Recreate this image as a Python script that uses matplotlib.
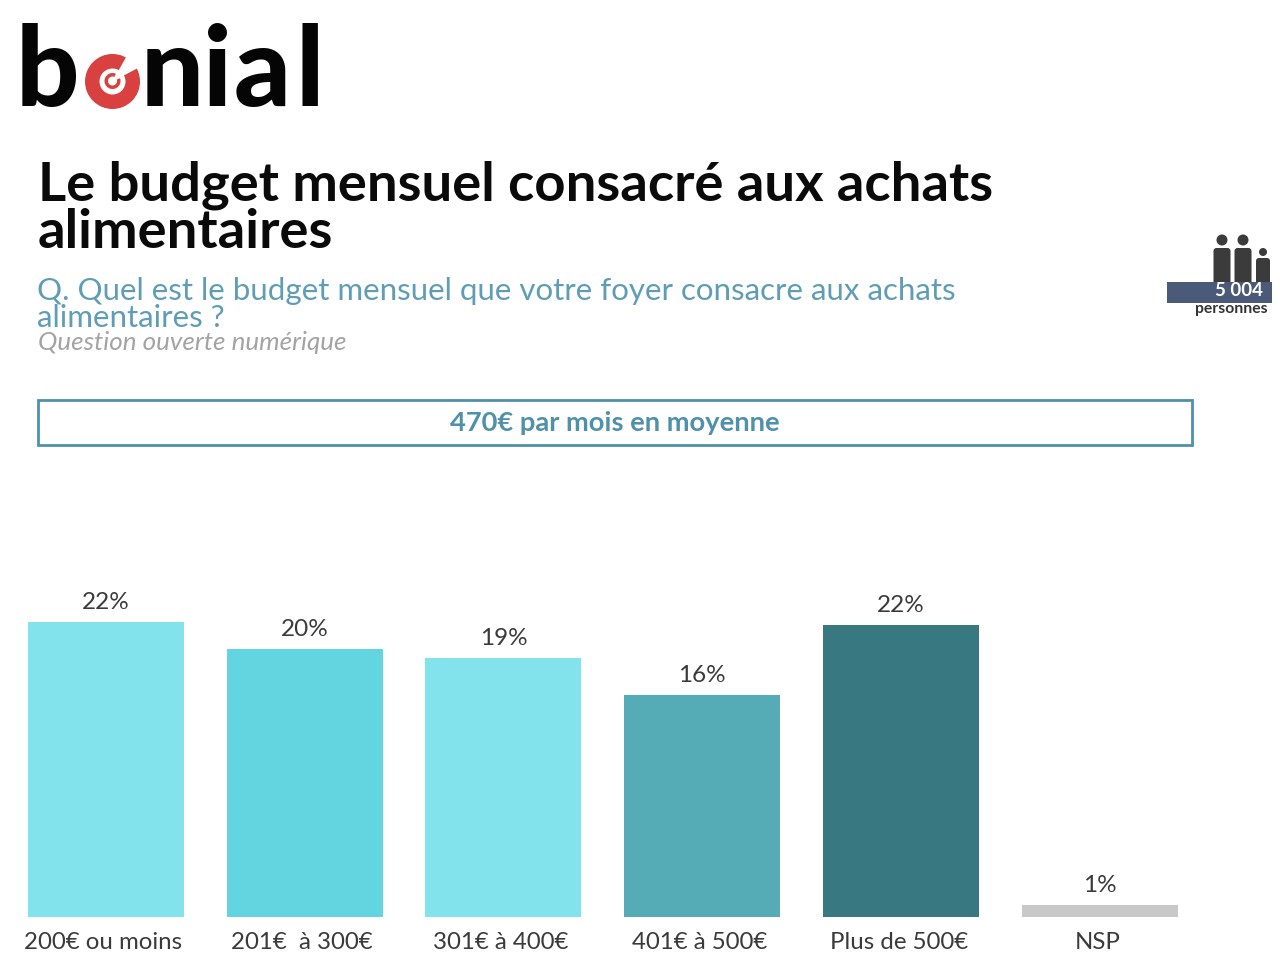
import matplotlib
matplotlib.use("Agg")
import matplotlib.pyplot as plt
from matplotlib.patches import Rectangle, Circle, Wedge, FancyBboxPatch
from matplotlib.transforms import ScaledTranslation

plt.rcParams['font.family'] = ['Lato', 'DejaVu Sans']

categories = ["200€ ou moins", "201€  à 300€", "301€ à 400€", "401€ à 500€", "Plus de 500€", "NSP"]
values = [22.0, 20.0, 19.3, 16.6, 21.8, 0.86]
labels = ["22%", "20%", "19%", "16%", "22%", "1%"]
colors = ["#82E3EC", "#62D5E0", "#82E3EC", "#55ABB6", "#387881", "#C8C8C8"]

title_lines = ["Le budget mensuel consacré aux achats", "alimentaires"]
question = ["Q. Quel est le budget mensuel que votre foyer consacre aux achats", "alimentaires ?"]
note = "Question ouverte numérique"
mean_text = "470€ par mois en moyenne"

W, H = 1280, 960
fig = plt.figure(figsize=(W / 100, H / 100), dpi=100, facecolor="white")

# pixel overlay for page furniture
ov = fig.add_axes([0, 0, 1, 1])
ov.set_xlim(0, W)
ov.set_ylim(H, 0)
ov.axis("off")

# logo: letters placed one by one around the red target
logo = dict(fontsize=80, fontweight="black", color="#050505", va="baseline", ha="left")
for lx, letter in [(16, "b"), (141, "n"), (203, "i"), (234, "a"), (296, "l")]:
    ov.text(lx, 106, letter, **logo)
ov.add_patch(Wedge((112.5, 81.5), 27.5, 0, 360, width=14.5, facecolor="#D8413F", edgecolor="none"))
ov.add_patch(Wedge((112.5, 81.5), 33, -61, -28, facecolor="white", edgecolor="none"))
ov.add_patch(Wedge((112.5, 81), 8, -20, 295, width=3.5, facecolor="#D8413F", edgecolor="none"))

# titles
ov.text(38, 200, title_lines[0], fontsize=39.2, fontweight="bold", color="#0A0A0A", va="baseline")
ov.text(38, 248, title_lines[1], fontsize=39.2, fontweight="bold", color="#0A0A0A", va="baseline")
ov.text(37, 300, question[0], fontsize=22.5, color="#5E9DB5", va="baseline")
ov.text(37, 327, question[1], fontsize=22.5, color="#5E9DB5", va="baseline")
ov.text(38, 350, note, fontsize=18.7, style="italic", color="#A3A3A3", va="baseline")

# mean box
ov.add_patch(Rectangle((38, 400), 1154, 45, fill=False, edgecolor="#4F90AB", linewidth=2))
ov.text(615, 423, mean_text, fontsize=19.7, fontweight="bold", color="#4F90AB", ha="center", va="center")

# people icon
dark = "#3B3B3B"
for cx, top, bw, r, cy in [(1222, 248, 17, 5.5, 240), (1243, 248, 17, 5.5, 240), (1263, 258, 14, 4, 252)]:
    ov.add_patch(Circle((cx, cy), r, facecolor=dark, edgecolor="none"))
    ov.add_patch(FancyBboxPatch((cx - bw / 2 + 3, top + 3), bw - 6, 283 - top - 3,
                                boxstyle="round,pad=3", facecolor=dark, edgecolor="none"))
ov.add_patch(Rectangle((1167, 282), 105, 21, facecolor="#4A5A78", edgecolor="none"))
ov.text(1239, 291, "5 004", fontsize=13.5, fontweight="bold", color="white", ha="center", va="center")
ov.text(1231, 309, "personnes", fontsize=11.3, fontweight="bold", color="#333333", ha="center", va="center")

# bars
ax = fig.add_axes([6.2 / W, (H - 917) / H, 1193.4 / W, 357 / H])
ax.patch.set_alpha(0)
x = list(range(len(categories)))
bars = ax.bar(x, values, width=156 / 199, color=colors, linewidth=0)
ax.set_xlim(-0.5, 5.5)
ax.set_ylim(0, 357 / 13.4)
ax.set_yticks([])
ax.set_xticks(x)
ax.set_xticklabels(categories, fontsize=17.3, color="#3A3A3A")
ax.tick_params(axis="x", length=0, pad=11)
shift = ScaledTranslation(-2.5 / 100, 0, fig.dpi_scale_trans)
for t in ax.get_xticklabels():
    t.set_transform(t.get_transform() + shift)
for s in ax.spines.values():
    s.set_visible(False)
for b, l in zip(bars, labels):
    ax.annotate(l, (b.get_x() + b.get_width() / 2, b.get_height()), xytext=(0, 9),
                textcoords="offset pixels", ha="center", va="bottom", fontsize=17.5, color="#3A3A3A")

fig.savefig("out.png", dpi=100)
